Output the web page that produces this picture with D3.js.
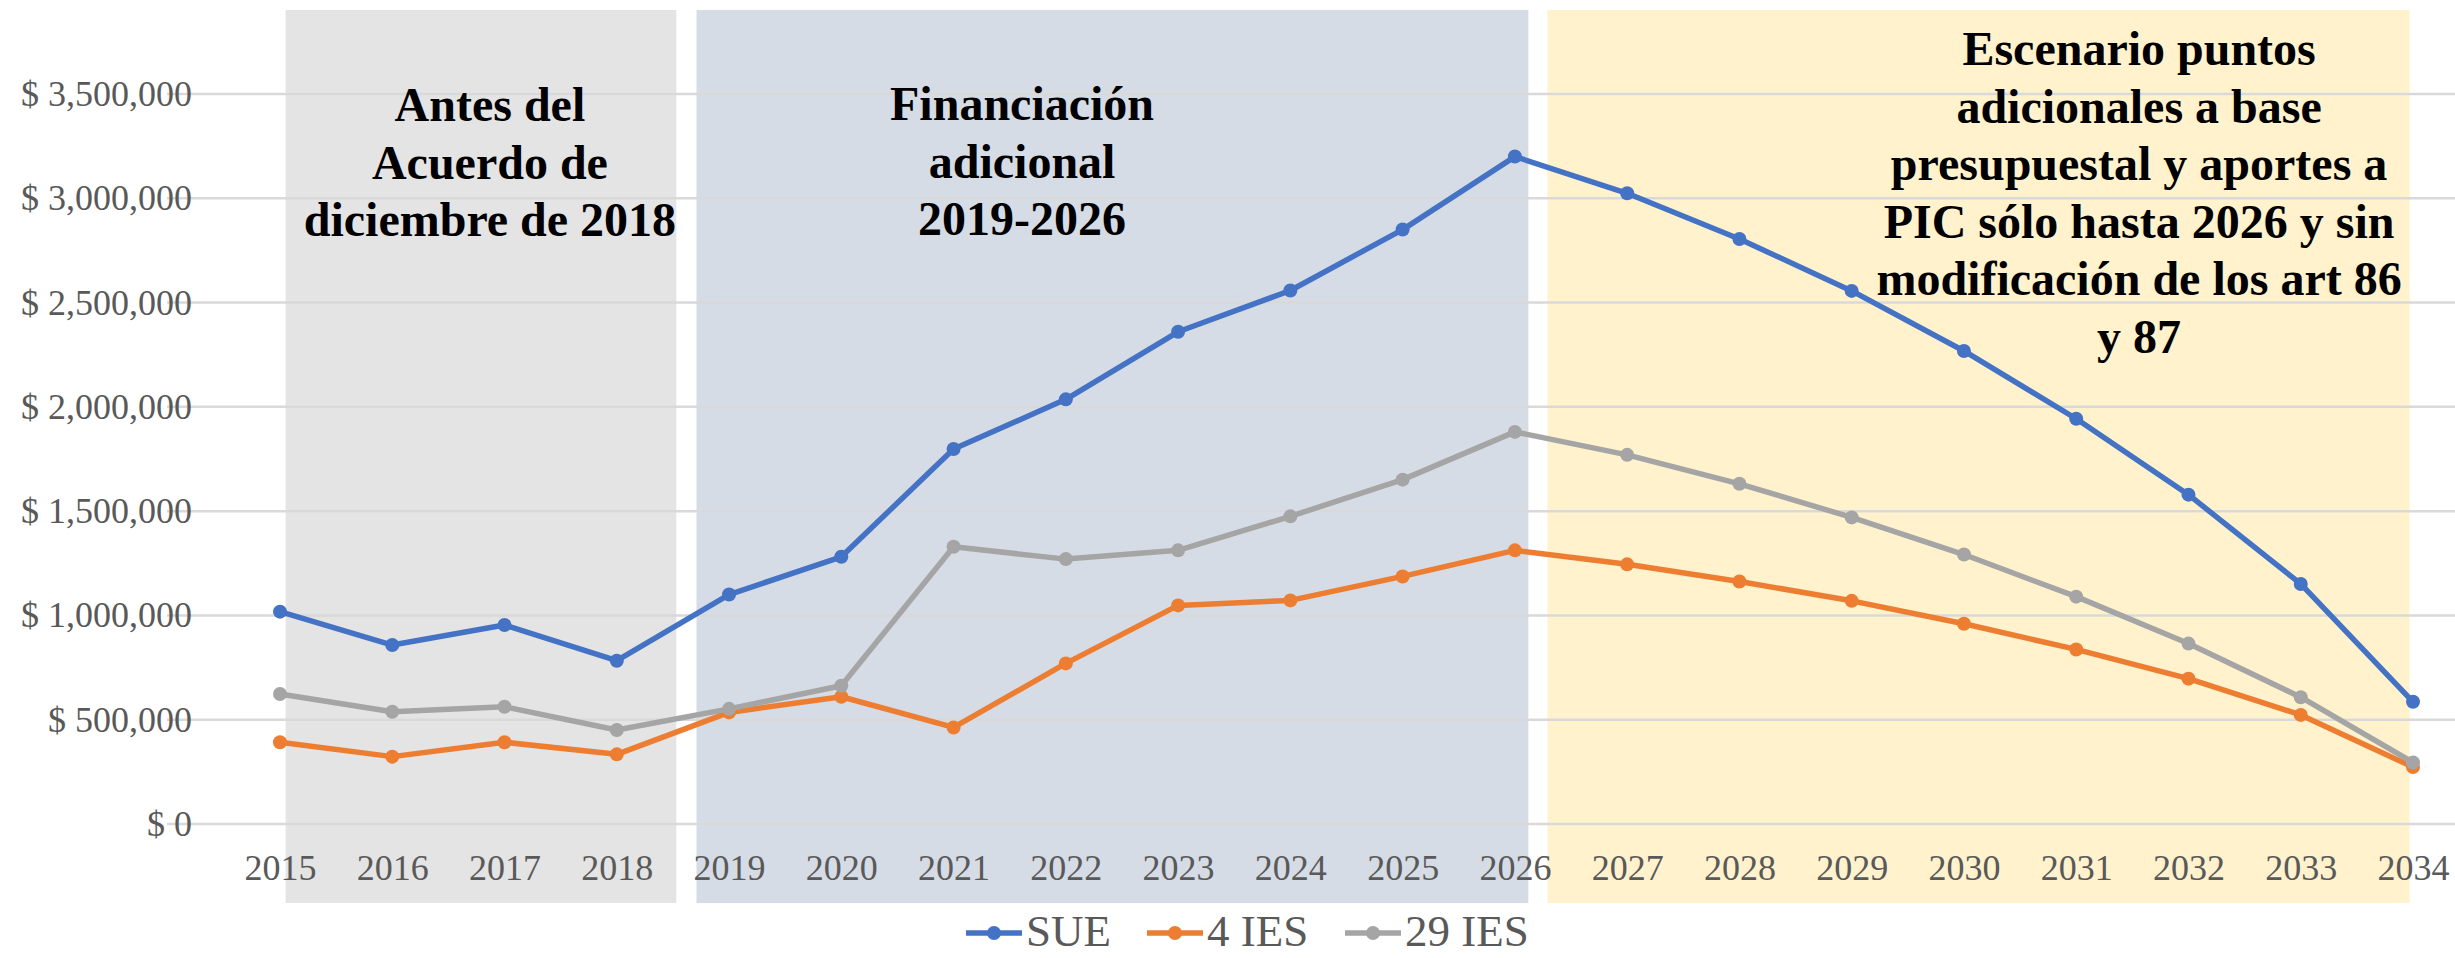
<!DOCTYPE html>
<html>
<head>
<meta charset="utf-8">
<script src="https://cdn.jsdelivr.net/npm/d3@7"></script>
<style>
  html, body { margin: 0; padding: 0; background: #fff; }
  svg { display: block; font-family: "Liberation Serif", "Times New Roman", serif; }
</style>
</head>
<body>
<div id="chart"></div>
<script>
// data (pesos)
const years = [2015, 2016, 2017, 2018, 2019, 2020, 2021, 2022, 2023, 2024,
               2025, 2026, 2027, 2028, 2029, 2030, 2031, 2032, 2033, 2034];
const sue   = [1018000, 858000, 954000, 783000, 1100000, 1281000, 1798000, 2036000, 2360000, 2558000,
               2850000, 3200000, 3024000, 2805000, 2556000, 2268000, 1943000, 1579000, 1151000, 586000];
const ies4  = [392000, 323000, 392000, 334000, 535000, 610000, 463000, 770000, 1048000, 1072000,
               1187000, 1312000, 1245000, 1163000, 1070000, 960000, 837000, 697000, 523000, 273000];
const ies29 = [623000, 538000, 562000, 451000, 552000, 663000, 1329000, 1270000, 1312000, 1475000,
               1651000, 1880000, 1770000, 1631000, 1470000, 1292000, 1090000, 865000, 608000, 295000];
const yTicks = [0, 500000, 1000000, 1500000, 2000000, 2500000, 3000000, 3500000];

const seriesNames  = ["SUE", "4 IES", "29 IES"];
const seriesColors = ["#4472C4", "#ED7D31", "#A5A5A5"];

// shaded periods, in year units on the x axis
const panelRanges = [[2015.05, 2018.53], [2018.71, 2026.12], [2026.29, 2033.97]];
const panelColors = ["#E4E4E4", "#D6DCE5", "#FFF2CC"];
const panelTexts  = [
    ["Antes del", "Acuerdo de", "diciembre de 2018"],
    ["Financiación", "adicional", "2019-2026"],
    ["Escenario puntos", "adicionales a base", "presupuestal y aportes a",
     "PIC sólo hasta 2026 y sin", "modificación de los art 86", "y 87"]
];

const W = 2455, H = 958;
const svg = d3.select("#chart").append("svg")
    .attr("width", W)
    .attr("height", H);

const x = d3.scaleLinear().domain([2015, 2034]).range([280, 2413]);
const y = d3.scaleLinear().domain([0, 3500000]).range([824, 94]);

const fmt = v => "$ " + d3.format(",")(v);

// background panels
const panelTop = 10, panelBottom = 903;
svg.selectAll("rect.panel")
    .data(panelRanges)
    .enter().append("rect")
    .attr("class", "panel")
    .attr("x", d => x(d[0]))
    .attr("y", panelTop)
    .attr("width", d => x(d[1]) - x(d[0]))
    .attr("height", panelBottom - panelTop)
    .attr("fill", (d, i) => panelColors[i]);

// gridlines
svg.append("g")
    .selectAll("line")
    .data(yTicks)
    .enter().append("line")
    .attr("x1", 167).attr("x2", W)
    .attr("y1", d => y(d)).attr("y2", d => y(d))
    .attr("stroke", "#D9D9D9")
    .attr("stroke-width", 2.5);

// y axis labels
const yAxis = d3.axisLeft(y).tickValues(yTicks).tickFormat(fmt).tickSize(0).tickPadding(0);
const gy = svg.append("g").attr("transform", "translate(192,0)").call(yAxis);
gy.select(".domain").remove();
gy.selectAll("text")
    .attr("fill", "#595959")
    .style("font-size", "36px")
    .style("font-family", "'Liberation Serif', 'Times New Roman', serif");

// x axis labels
const xAxis = d3.axisBottom(x).tickValues(years).tickFormat(d3.format("d")).tickSize(0).tickPadding(0);
const gx = svg.append("g").attr("transform", "translate(0,880)").call(xAxis);
gx.select(".domain").remove();
gx.selectAll("text")
    .attr("dy", 0)
    .attr("y", 0)
    .attr("fill", "#595959")
    .style("font-size", "36px")
    .style("font-family", "'Liberation Serif', 'Times New Roman', serif");

// panel titles
const titlePos = [
    { cx: x(2016.87), y0: 121 },
    { cx: x(2021.61), y0: 120 },
    { cx: x(2031.56), y0: 65 }
];
panelTexts.forEach((lines, i) => {
    const t = svg.append("text")
        .attr("text-anchor", "middle")
        .attr("font-weight", "bold")
        .attr("font-size", 48)
        .attr("fill", "#000");
    lines.forEach((ln, j) => {
        t.append("tspan")
            .attr("x", titlePos[i].cx)
            .attr("y", titlePos[i].y0 + j * 57.5)
            .text(ln);
    });
});

// lines + markers
const allSeries = [sue, ies4, ies29];
const line = d3.line()
    .x((d, i) => x(years[i]))
    .y(d => y(d));

allSeries.forEach((vals, s) => {
    const g = svg.append("g");
    g.append("path")
        .datum(vals)
        .attr("d", line)
        .attr("fill", "none")
        .attr("stroke", seriesColors[s])
        .attr("stroke-width", 5.5)
        .attr("stroke-linejoin", "round");
    g.selectAll("circle")
        .data(vals)
        .enter().append("circle")
        .attr("cx", (d, i) => x(years[i]))
        .attr("cy", d => y(d))
        .attr("r", 7)
        .attr("fill", seriesColors[s]);
});

// legend (kept just inside the bottom edge)
const legendX = [966, 1147, 1345];
const legend = svg.append("g");
seriesNames.forEach((name, i) => {
    const lg = legend.append("g").attr("transform", `translate(${legendX[i]},933)`);
    lg.append("line")
        .attr("x1", 0).attr("x2", 56)
        .attr("stroke", seriesColors[i])
        .attr("stroke-width", 5.5);
    lg.append("circle")
        .attr("cx", 28).attr("r", 7)
        .attr("fill", seriesColors[i]);
    lg.append("text")
        .attr("x", 60).attr("y", 13)
        .attr("font-size", 45)
        .attr("fill", "#595959")
        .text(name);
});
</script>
</body>
</html>
